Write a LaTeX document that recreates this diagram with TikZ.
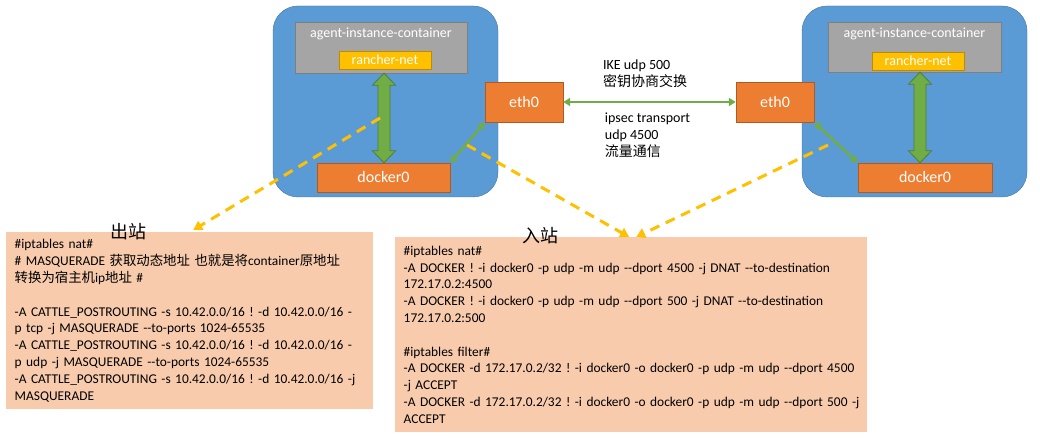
\documentclass[tikz,border=0pt]{standalone}
\usepackage{fontspec}
\setmainfont{Carlito}[Ligatures=TeXOff]
\newfontfamily\cjk{Noto Sans CJK SC}
\usepackage{xcolor}
\usepackage{tikz}
\usetikzlibrary{arrows.meta, positioning, calc}

\definecolor{hostblue}{HTML}{5B9BD5}
\definecolor{hostline}{HTML}{41719C}
\definecolor{ctrgray}{HTML}{A5A5A5}
\definecolor{ctrline}{HTML}{7F7F7F}
\definecolor{rnetyellow}{HTML}{FFC000}
\definecolor{rnetline}{HTML}{BC8C00}
\definecolor{devorange}{HTML}{ED7D31}
\definecolor{devline}{HTML}{AE5A21}
\definecolor{linkgreen}{HTML}{70AD47}
\definecolor{fatline}{HTML}{507E32}
\definecolor{flowyellow}{HTML}{FFC000}
\definecolor{codepeach}{HTML}{F8CBAD}

% block arrow with two heads, from top point #1 to bottom point #2
\newcommand{\fatlink}[2]{%
  \draw[fat] (#1) -- ($(#1)+(11.5,12)$) -- ($(#1)+(6,12)$) -- ($(#2)+(6,-12)$)
    -- ($(#2)+(11.5,-12)$) -- (#2) -- ($(#2)+(-11.5,-12)$) -- ($(#2)+(-6,-12)$)
    -- ($(#1)+(-6,12)$) -- ($(#1)+(-11.5,12)$) -- cycle;}

\begin{document}
\begin{tikzpicture}[x=1pt, y=-1pt, >={Triangle[length=7pt, width=8pt]},
        host/.style={rectangle, draw=hostline, fill=hostblue, rounded corners=25pt, minimum width=225pt, minimum height=191pt},
        ctr/.style={rectangle, draw=ctrline, fill=ctrgray, minimum width=172pt, minimum height=51pt},
        ctrlabel/.style={anchor=north, yshift=-6pt, inner sep=0pt, text=white, font=\fontsize{14}{16}\selectfont},
        rnet/.style={rectangle, draw=rnetline, fill=rnetyellow, text=white, inner sep=0pt, minimum width=92pt, minimum height=18pt, font=\fontsize{14}{16}\selectfont},
        dev/.style={rectangle, draw=devline, fill=devorange, text=white, inner sep=0pt, font=\fontsize{16}{18}\selectfont},
        link/.style={<->, draw=linkgreen, line width=2.5pt},
        fat/.style={draw=fatline, fill=linkgreen, line width=0.8pt},
        flow/.style={-{Triangle[length=9pt, width=10pt]}, draw=flowyellow, line width=3pt, dash pattern=on 10pt off 7pt},
        codebox/.style={rectangle, fill=codepeach, anchor=north west, align=left, inner xsep=8.5pt, inner ysep=3pt, font=\fontsize{13.4}{16.8}\selectfont\frenchspacing},
        note/.style={align=left, inner sep=0pt, font=\fontsize{14}{17}\selectfont},
        dir/.style={inner sep=0pt, font=\cjk\fontsize{18}{18}\selectfont}]
        \useasboundingbox (0,0) rectangle (1040,438);

        % Hosts
        \node[host] (host1) at (385.5,101.5) {};
        \node[ctr, label={[ctrlabel]north:agent-instance-container}] (gray1) at (381,47.5) {};
        \node[rnet] (rnet1) at (385,60) {rancher-net};
        \node[dev, minimum width=133pt, minimum height=29pt] (dock1) at (383.5,177.5) {docker0};
        \node[dev, minimum width=78pt, minimum height=40pt] (eth1) at (524,102) {eth0};

        \node[host] (host2) at (914.5,101.5) {};
        \node[ctr, minimum width=173pt, minimum height=50pt, label={[ctrlabel]north:agent-instance-container}] (gray2) at (914.5,47) {};
        \node[rnet] (rnet2) at (918,61) {rancher-net};
        \node[dev, minimum width=134pt, minimum height=29pt] (dock2) at (925,177.5) {docker0};
        \node[dev, minimum width=78pt, minimum height=40pt] (eth2) at (775,102) {eth0};

        % Links
        \coordinate (top1) at ([xshift=-1pt]rnet1.south |- gray1.south);
        \coordinate (bot1) at ([xshift=-1pt]rnet1.south |- dock1.north);
        \coordinate (top2) at ([xshift=2pt]rnet2.south |- gray2.south);
        \coordinate (bot2) at ([xshift=2pt]rnet2.south |- dock2.north);
        \fatlink{top1}{bot1}
        \fatlink{top2}{bot2}
        \draw[link] (eth1.east) -- (eth2.west);
        \draw[link] (eth1.south west) -- (dock1.north east);
        \draw[link] (eth2.south east) -- (dock2.north west);

        \coordinate (ike) at ($(eth1.east)!0.5!(eth2.west)$);
        \node[note, above=14pt of ike, xshift=-4.5pt] (ikelabel) {IKE udp 500\\{\cjk 密钥协商交换}};
        \node[note, below=11pt of ike, xshift=-2pt] (ipseclabel) {ipsec transport\\udp 4500\\{\cjk 流量通信}};

        % Rules
        \node[codebox, text width=350pt, minimum height=177pt] (outbox) at (6,232) {%
            \#iptables nat\#\\
            \mbox{\# MASQUERADE {\cjk 获取动态地址 也就是将}container{\cjk 原地址}}\\
            {\cjk 转换为宿主机}ip{\cjk 地址} \#\\[16.8pt]
            \mbox{-A CATTLE\_POSTROUTING -s 10.42.0.0/16 ! -d 10.42.0.0/16 -}\\
            p tcp -j MASQUERADE --to-ports 1024-65535\\
            \mbox{-A CATTLE\_POSTROUTING -s 10.42.0.0/16 ! -d 10.42.0.0/16 -}\\
            p udp -j MASQUERADE --to-ports 1024-65535\\
            \mbox{-A CATTLE\_POSTROUTING -s 10.42.0.0/16 ! -d 10.42.0.0/16 -j}\\
            MASQUERADE};
        \node[codebox, text width=455pt, minimum height=195pt] (inbox) at (395,237) {%
            \#iptables nat\#\\
            \mbox{-A DOCKER ! -i docker0 -p udp -m udp --dport 4500 -j DNAT --to-destination}\\
            172.17.0.2:4500\\
            \mbox{-A DOCKER ! -i docker0 -p udp -m udp --dport 500 -j DNAT --to-destination}\\
            172.17.0.2:500\\[16.8pt]
            \#iptables filter\#\\
            \mbox{-A DOCKER -d 172.17.0.2/32 ! -i docker0 -o docker0 -p udp -m udp --dport 4500}\\
            -j ACCEPT\\
            \mbox{-A DOCKER -d 172.17.0.2/32 ! -i docker0 -o docker0 -p udp -m udp --dport 500 -j}\\
            ACCEPT};
        \node[dir] (outlabel) at (128.5,231.5) {出站};
        \node[dir] (inlabel) at (540,236) {入站};

        % Traffic
        \coordinate (out1) at (380,118);
        \coordinate (in1) at (467,145);
        \coordinate (in2) at (828,145);
        \draw[flow] (out1) -- ([xshift=3.5pt, yshift=2pt]outbox.north);
        \draw[flow] (in1) -- ([xshift=-2pt]inbox.north);
        \draw[flow] (in2) -- ([xshift=5pt]inbox.north);
    \end{tikzpicture}
\end{document}
